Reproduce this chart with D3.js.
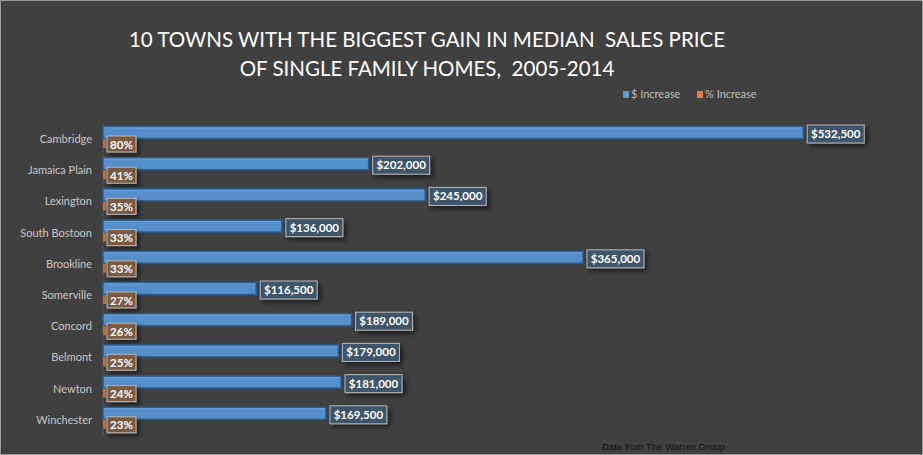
<!DOCTYPE html>
<html lang="en">
<head>
<meta charset="UTF-8">
<title>Biggest gain in median sales price</title>
<script src="https://d3js.org/d3.v7.min.js"></script>
<style>
    body { margin:0; background:#fff; }
    svg { display:block; }
</style>
</head>
<body>
<script>
var towns = ["Cambridge", "Jamaica Plain", "Lexington", "South Bostoon", "Brookline",
             "Somerville", "Concord", "Belmont", "Newton", "Winchester"];
var dollarIncrease = [532500, 202000, 245000, 136000, 365000, 116500, 189000, 179000, 181000, 169500];
var pctIncrease = [80, 41, 35, 33, 33, 27, 26, 25, 24, 23];
var seriesNames = ["$ Increase", "% Increase"];

var width = 923, height = 455;

var svg = d3.select("body").append("svg")
    .attr("width", width).attr("height", height);

var defs = svg.append("defs");
var f = defs.append("filter").attr("id", "shadow")
    .attr("x", "-20%").attr("y", "-40%").attr("width", "160%").attr("height", "200%");
f.append("feDropShadow").attr("dx", 3).attr("dy", 3).attr("stdDeviation", 2.5)
    .attr("flood-color", "#000").attr("flood-opacity", 0.55);

// background
svg.append("rect").attr("x", 0.5).attr("y", 0.5).attr("width", width - 1).attr("height", height - 1)
    .attr("fill", "#404040").attr("stroke", "#9a9a9a");

// title
var title = svg.append("text").attr("text-anchor", "middle")
    .attr("fill", "#ffffff").style("font-family", "Lato, 'Open Sans', sans-serif")
    .style("font-size", "20.5px").style("white-space", "pre");
title.append("tspan").attr("x", 427).attr("y", 47).text("10 TOWNS WITH THE BIGGEST GAIN IN MEDIAN  SALES PRICE");
title.append("tspan").attr("x", 427).attr("y", 76).text("OF SINGLE FAMILY HOMES,  2005-2014");

// legend
var legendColors = ["#5b9bd5", "#ed7d31"];
var legendX = [623, 697];
seriesNames.forEach(function(name, i) {
    svg.append("rect").attr("x", legendX[i]).attr("y", 91).attr("width", 6).attr("height", 7)
        .attr("fill", legendColors[i]);
    svg.append("text").attr("x", legendX[i] + 8).attr("y", 98)
        .attr("fill", "#bfbfbf").style("font-family", "Lato, sans-serif").style("font-size", "11px")
        .text(name);
});

var x = d3.scaleLinear().domain([0, 600000]).range([103, 892]);
var y = d3.scaleBand().domain(towns).range([124, 436]);

// category axis
svg.append("line").attr("x1", 103).attr("x2", 103).attr("y1", 121).attr("y2", 436)
    .attr("stroke", "#555");

var yAxis = svg.append("g").attr("transform", "translate(92,0)")
    .call(d3.axisLeft(y).tickSize(0).tickPadding(0));
yAxis.select(".domain").remove();
yAxis.selectAll("text").attr("fill", "#c8c8c8")
    .style("font-family", "Lato, 'Open Sans', sans-serif").style("font-size", "11px")
    .attr("dy", "0.3em");

var rows = svg.selectAll("g.row").data(towns).enter().append("g").attr("class", "row")
    .attr("transform", function(d) { return "translate(0," + y(d) + ")"; });

// $ bars
rows.append("rect")
    .attr("x", x(0))
    .attr("y", 2.5)
    .attr("width", function(d, i) { return x(dollarIncrease[i]) - x(0); })
    .attr("height", 12)
    .attr("fill", "#5590cc")
    .attr("stroke", "#2c5d8f")
    .attr("stroke-width", 1.5);
rows.append("line")
    .attr("x1", x(0) + 1).attr("y1", 4)
    .attr("x2", function(d, i) { return x(dollarIncrease[i]) - 1; }).attr("y2", 4)
    .attr("stroke", "#6aa3dc").attr("stroke-width", 1);

// % bars (same value axis, so they are tiny slivers)
rows.append("rect")
    .attr("x", x(0))
    .attr("y", 15)
    .attr("width", function(d, i) { return Math.max(x(pctIncrease[i]) - x(0), 3); })
    .attr("height", 9)
    .attr("fill", "#d2691e");

// $ labels
var dl = rows.append("g")
    .attr("transform", function(d, i) { return "translate(" + (x(dollarIncrease[i]) + 4) + ",1)"; });
dl.append("rect").attr("width", 57).attr("height", 18)
    .attr("fill", "#3e546b").attr("stroke", "#b8b8b8").attr("stroke-width", 1)
    .attr("filter", "url(#shadow)");
dl.append("text").attr("x", 28.5).attr("y", 13).attr("text-anchor", "middle")
    .attr("fill", "#ffffff").style("font-family", "Lato, 'Open Sans', sans-serif")
    .style("font-size", "11.5px").style("font-weight", "bold")
    .text(function(d, i) { return "$" + d3.format(",")(dollarIncrease[i]); });

// % labels
var pl = rows.append("g").attr("transform", "translate(107,12)");
pl.append("rect").attr("width", 29).attr("height", 16)
    .attr("fill", "#7b5a42").attr("stroke", "#b8b8b8").attr("stroke-width", 1)
    .attr("filter", "url(#shadow)");
pl.append("text").attr("x", 14.5).attr("y", 12.5).attr("text-anchor", "middle")
    .attr("fill", "#ffffff").style("font-family", "Lato, 'Open Sans', sans-serif")
    .style("font-size", "11.5px").style("font-weight", "bold")
    .text(function(d, i) { return pctIncrease[i] + "%"; });

// source note
svg.append("text").attr("x", 602).attr("y", 450)
    .attr("fill", "#111").style("font-family", "'Liberation Sans', Arial, sans-serif")
    .style("font-size", "9.5px").text("Data from The Warren Group");
</script>
</body>
</html>
